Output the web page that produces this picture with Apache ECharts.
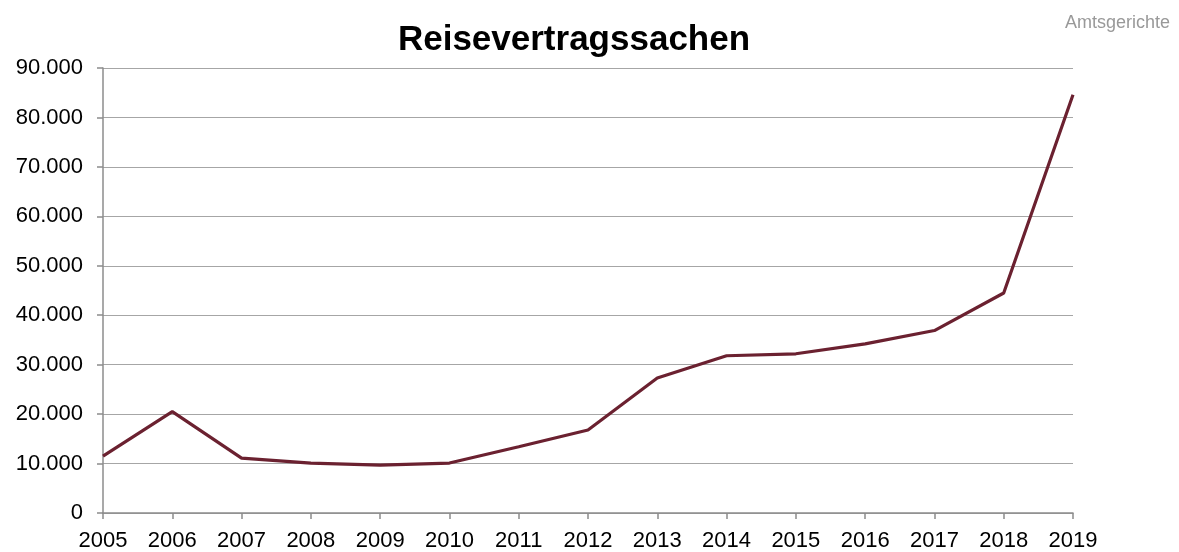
<!DOCTYPE html>
<html>
<head>
<meta charset="utf-8">
<script src="https://cdn.jsdelivr.net/npm/echarts@6/dist/echarts.min.js"></script>
<style>
  html, body { margin: 0; padding: 0; background: #fff; }
  #chart { width: 1179px; height: 552px; }
</style>
</head>
<body>
<div id="chart"></div>
<script>
  // Reisevertragssachen bei den Amtsgerichten
  var years = ['2005', '2006', '2007', '2008', '2009', '2010', '2011', '2012',
    '2013', '2014', '2015', '2016', '2017', '2018', '2019']
  var cases = [11500, 20500, 11100, 10100, 9700, 10100, 13400, 16800,
    27300, 31800, 32200, 34200, 36900, 44500, 84600]

  var chart = echarts.init(document.getElementById('chart'), null, { renderer: 'canvas' })

  function fmt(v) {
    return String(v).replace(/\B(?=(\d{3})+(?!\d))/g, '.')
  }

  chart.setOption({
    animation: false,
    textStyle: { fontFamily: 'Liberation Sans, Arial, sans-serif' },
    title: [
      {
        text: 'Reisevertragssachen',
        left: 569,
        top: 18,
        textAlign: 'center',
        textStyle: { fontSize: 35, fontWeight: 'bold', color: '#000' }
      },
      {
        text: 'Amtsgerichte',
        right: 4,
        top: 9,
        textStyle: { fontSize: 18, fontWeight: 'normal', color: '#999' }
      }
    ],
    grid: { left: 103, right: 106, top: 68, bottom: 39 },
    xAxis: {
      type: 'category',
      data: years,
      boundaryGap: false,
      axisLine: { lineStyle: { color: '#8c8c8c', width: 1.5 } },
      axisTick: { show: true, length: 6, lineStyle: { color: '#8c8c8c', width: 1.5 } },
      axisLabel: { color: '#000', fontSize: 22, margin: 17, showMinLabel: true, showMaxLabel: true },
      splitLine: { show: false }
    },
    yAxis: {
      type: 'value',
      min: 0,
      max: 90000,
      interval: 10000,
      axisLine: { show: true, lineStyle: { color: '#8c8c8c', width: 1.5 } },
      axisTick: { show: true, length: 6, lineStyle: { color: '#8c8c8c', width: 1.5 } },
      axisLabel: { color: '#000', fontSize: 22, margin: 20, formatter: fmt },
      splitLine: { lineStyle: { color: '#a6a6a6', width: 1.2 } }
    },
    series: [
      {
        name: 'Reisevertragssachen',
        type: 'line',
        data: cases,
        symbol: 'none',
        lineStyle: { color: '#6b2130', width: 3.2 },
        itemStyle: { color: '#6b2130' }
      }
    ]
  })
</script>
</body>
</html>
